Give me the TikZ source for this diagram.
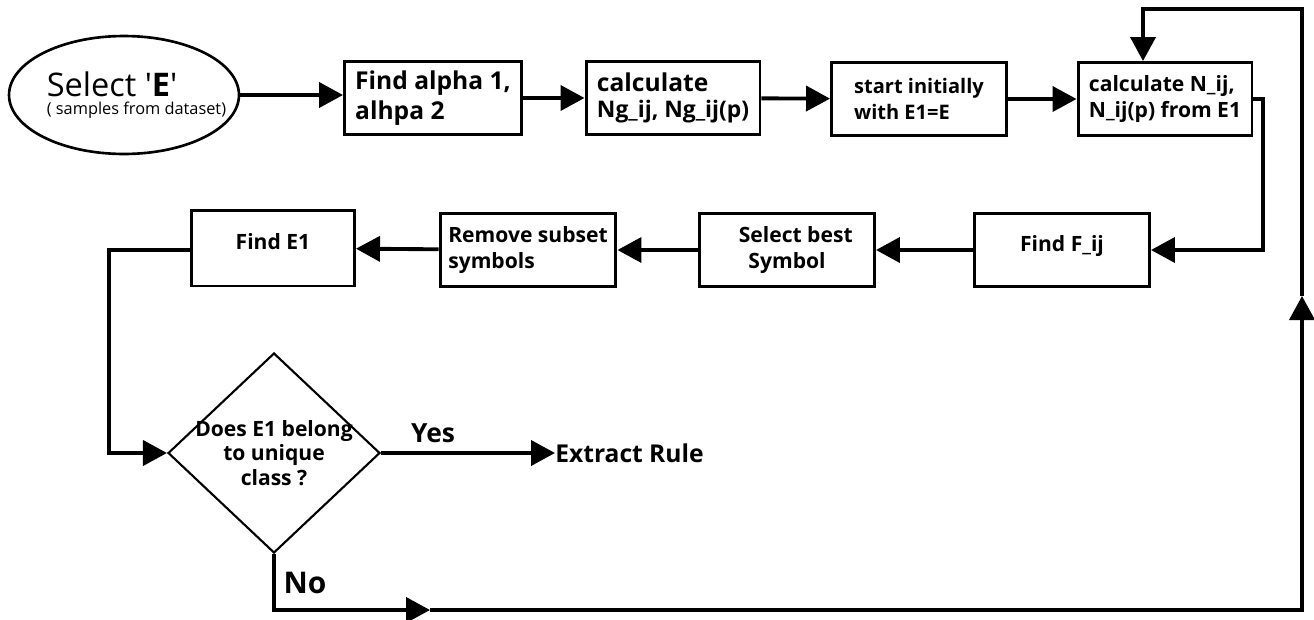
\documentclass[tikz,border=0pt]{standalone}
\usepackage{fontspec}
\setmainfont{Open Sans}
\usetikzlibrary{arrows.meta}
\usetikzlibrary{shapes}
\usetikzlibrary{shapes.geometric}

\begin{document}
\begin{tikzpicture}[x=0.02cm, y=-0.02cm]
\tikzset{
   >={Triangle[length=0.48cm, width=0.5cm]},
   link/.style = {draw, line width = 2.2pt},
   stepbox/.style = {rectangle, draw, line width = 1.7pt, minimum width = 3.5cm, minimum height = 1.46cm, inner sep = 0pt, align = left, font = \bfseries\fontsize{12}{15}\selectfont},
   choice/.style = {diamond, draw, line width = 1.2pt, minimum width = 4.24cm, minimum height = 4cm, inner xsep = -0.2cm, inner ysep = -0.1cm, aspect = 1.06, align = center, font = \bfseries\fontsize{12}{14}\selectfont},
   start/.style = {ellipse, draw, line width = 1.5pt, minimum width = 4.6cm, minimum height = 2.36cm, inner xsep = -0.5cm, inner ysep = 0pt, align = left},
   tag/.style = {font = \bfseries\fontsize{15}{18}\selectfont}
}
\useasboundingbox (0,0) rectangle (1314,619);

  \node [start] (sel) at (124,95) {{\fontsize{18.5}{21}\selectfont \hspace*{0.5cm}Select \textquotesingle\textbf{E}\textquotesingle}\\[-2pt]{\fontsize{9.3}{11}\selectfont \hspace*{0.5cm}( samples from dataset)}};
  \node [stepbox, minimum width = 3.54cm, font = \bfseries\fontsize{14}{17.5}\selectfont] (alpha) at (433,98) {Find alpha 1,\\alhpa 2};
  \node [stepbox, minimum width = 3.48cm] (ng) at (673,98) {{\fontsize{14}{17}\selectfont calculate}\\{\fontsize{13}{17}\selectfont Ng\_ij, Ng\_ij(p)}};
  \node [stepbox, font = \bfseries\fontsize{11.4}{15}\selectfont] (init) at (919,99) {start initially\\with E1=E};
  \node [stepbox, minimum width = 3.48cm] (nij) at (1165,99) {calculate N\_ij,\\N\_ij(p) from E1};

  \node [stepbox, align = center, text depth = 0.25cm] (fij) at (1062,250) {Find F\_ij};
  \node [stepbox, align = center] (best) at (787,250) {\hspace{0.35cm}Select best\\Symbol};
  \node [stepbox, minimum width = 3.52cm] (rem) at (528,250) {Remove subset\\symbols};
  \node [stepbox, minimum width = 3.26cm, minimum height = 1.52cm, align = center, text depth = 0.25cm] (fe1) at (273,248) {Find E1};

  \node [choice] (dec) at (274,453) {Does E1 belong\\to unique\\class ?};
  \node [tag, anchor = west, inner sep = 0pt, font = \bfseries\fontsize{14}{17}\selectfont] (rule) at (555,453) {Extract Rule};
  \node [tag] (yes) at (433,433) {Yes};
  \node [tag, font = \bfseries\fontsize{17}{20}\selectfont] (no) at (305,583) {No};

  \coordinate (rt) at (1263,99);
  \coordinate (fe1w) at (109,250);
  \coordinate (nobot) at (430,610);
  \coordinate (br) at (1302,610);
  \coordinate (rmid) at (1302,296);
  \coordinate (tr) at (1302,9);
  \coordinate (tl) at (1143,9);

  \draw [link, ->] (sel.east) -- (sel.east -| alpha.west);
  \draw [link, ->] (alpha) -- (ng);
  \draw [link, ->] (ng) -- (init);
  \draw [link, ->] (init) -- (nij);
  \draw [link, ->] (nij.east) -- (rt) |- (fij.east);
  \draw [link, ->] (fij) -- (best);
  \draw [link, ->] (best) -- (rem);
  \draw [link, ->] (rem) -- (fe1);
  \draw [link, ->] (fe1.west |- fe1w) -- (fe1w) |- (dec.west);
  \draw [link, ->] (dec.east) -- (rule.west);
  \draw [link, ->] (dec.south) |- (nobot);
  \draw [link, ->] (nobot) -- (br) -- (rmid);
  \draw [link, ->] (rmid) -- (tr) -- (tl) -- (tl |- nij.north);

\end{tikzpicture}
\end{document}
